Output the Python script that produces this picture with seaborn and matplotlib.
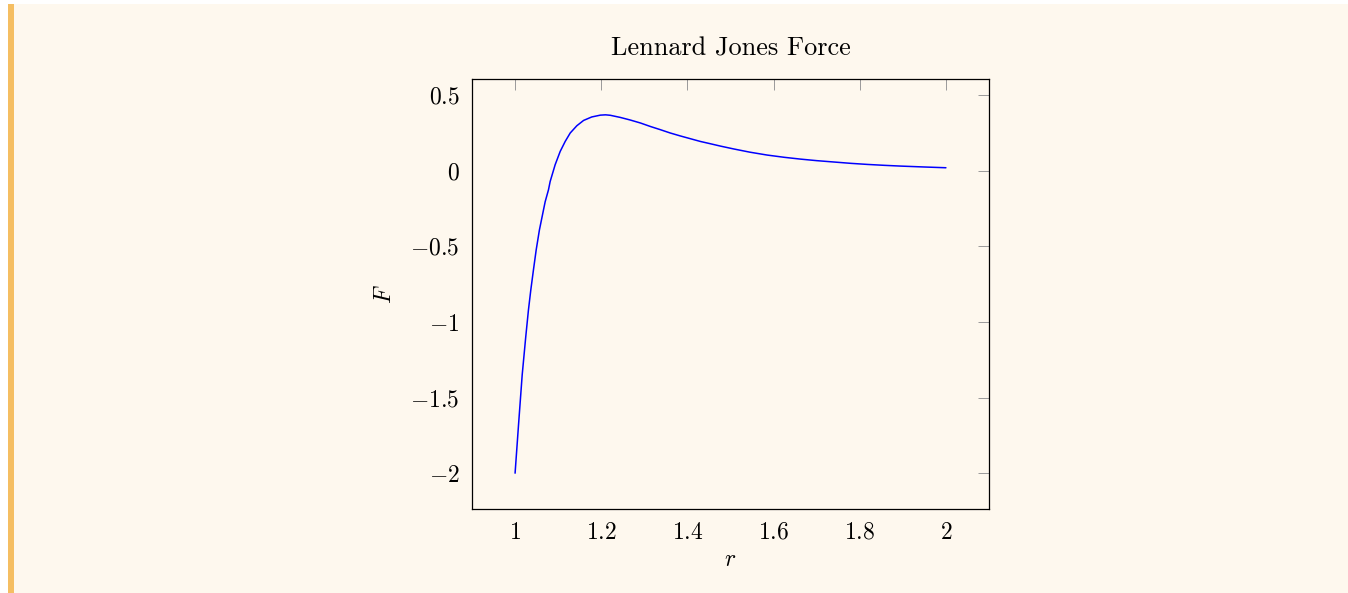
import matplotlib
matplotlib.use("Agg")
import matplotlib.pyplot as plt
import seaborn as sns
import pandas as pd
from matplotlib.patches import Rectangle

# Data
r_values = [1.000, 1.008, 1.0165, 1.0248, 1.031, 1.0365, 1.0426, 1.049, 1.0565, 1.066,
            1.0698, 1.0775, 1.0814, 1.093, 1.1047, 1.1163, 1.128, 1.1434, 1.159, 1.178,
            1.198, 1.210, 1.221, 1.244, 1.267, 1.291, 1.314, 1.337, 1.360, 1.384,
            1.407, 1.430, 1.453, 1.477, 1.508, 1.545, 1.585, 1.625, 1.663, 1.700,
            1.740, 1.780, 1.818, 1.857, 1.895, 1.950, 2.000]
F_values = [-2.00, -1.68, -1.35, -1.097, -0.921, -0.788, -0.656, -0.523, -0.391, -0.258,
            -0.205, -0.126, -0.071, 0.040, 0.128, 0.194, 0.250, 0.298, 0.333, 0.356,
            0.368, 0.370, 0.367, 0.353, 0.336, 0.316, 0.293, 0.272, 0.250, 0.230,
            0.212, 0.194, 0.179, 0.163, 0.144, 0.123, 0.104, 0.089, 0.077, 0.067,
            0.058, 0.049, 0.042, 0.036, 0.031, 0.025, 0.020]
x_ticks = [1, 1.2, 1.4, 1.6, 1.8, 2]
x_tick_labels = ["$1$", "$1.2$", "$1.4$", "$1.6$", "$1.8$", "$2$"]
y_ticks = [0.5, 0, -0.5, -1, -1.5, -2]
y_tick_labels = ["$0.5$", "$0$", "$-0.5$", "$-1$", "$-1.5$", "$-2$"]
title = "Lennard Jones Force"

sns.set_style("white")
plt.rcParams["font.family"] = ["cmr10", "DejaVu Serif"]
plt.rcParams["mathtext.fontset"] = "cm"
plt.rcParams["axes.formatter.use_mathtext"] = True
plt.rcParams["text.color"] = "black"
plt.rcParams["axes.labelcolor"] = "black"
plt.rcParams["xtick.labelcolor"] = "black"
plt.rcParams["ytick.labelcolor"] = "black"

W, H = 1348, 593
fig = plt.figure(figsize=(W / 100, H / 100), dpi=100, facecolor="white")
fig.patches.append(Rectangle((8 / W, 0), 1 - 8 / W, (H - 4) / H, transform=fig.transFigure,
                             facecolor="#FEF8EE", edgecolor="none", zorder=-10))
fig.patches.append(Rectangle((8 / W, 0), 6 / W, (H - 4) / H, transform=fig.transFigure,
                             facecolor="#F5BE62", edgecolor="none", zorder=-9))

ax = fig.add_axes([472 / W, (H - 509) / H, 517 / W, 430 / H])
ax.set_facecolor("none")

df = pd.DataFrame({"r": r_values, "F": F_values})
sns.lineplot(data=df, x="r", y="F", ax=ax, color="#0000FF", linewidth=1.1, sort=False)

ax.set_xlim(0.9, 2.1)
ax.set_ylim(-2.237, 0.607)
ax.set_xticks(x_ticks)
ax.set_xticklabels(x_tick_labels)
ax.set_yticks(y_ticks)
ax.set_yticklabels(y_tick_labels)
ax.tick_params(direction="in", length=8, width=0.7, color="#9a9a9a", labelcolor="black",
               top=True, right=True, labelsize=17, pad=9)
for s in ax.spines.values():
    s.set_color("black")
    s.set_linewidth(0.9)
    s.set_visible(True)

ax.set_xlabel("$r$", fontsize=17, labelpad=4, color="black")
ax.set_ylabel("$F$", fontsize=17, labelpad=10, color="black")
ax.set_title(title, fontsize=18.9, pad=17, color="black")

fig.savefig("out.png", dpi=100, facecolor=fig.get_facecolor())
